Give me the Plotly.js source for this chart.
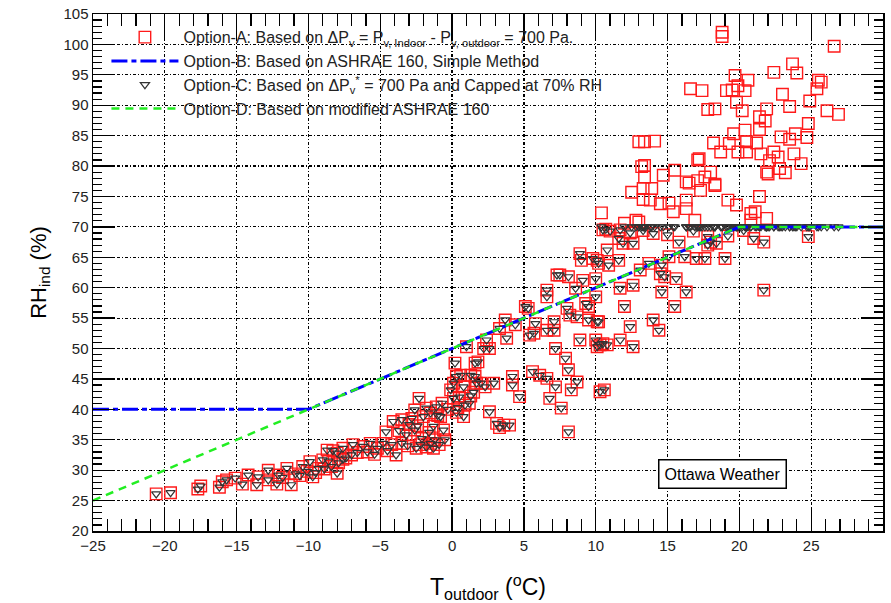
<!DOCTYPE html>
<html>
<head>
<meta charset="utf-8">
<script src="https://cdn.plot.ly/plotly-3.0.1.min.js"></script>
<style>html,body{margin:0;padding:0;background:#fff;}#chart{width:891px;height:603px;}</style>
</head>
<body>
<div id="chart"></div>
<script>
// Option-A: outdoor temperature (°C) and indoor RH (%)
const tempA = [
-20.6,-19.6,-17.7,-17.5,-16.2,-16.0,-15.7,-15.1,-14.6,-14.2,-13.6,-13.5,-12.8,-12.8,-12.2,-12.1,-11.5,-11.2,-10.9,-10.4,
-9.9,-9.7,-9.3,-9.0,-8.7,-8.4,-8.0,-8.0,-11.8,-10.6,-10.1,-9.5,-8.9,-8.6,-7.9,-7.6,
-8.3,-7.6,-7.4,-7.0,-6.9,-6.6,-6.2,-5.9,-5.7,-5.4,-5.2,-4.8,-4.5,-4.2,-3.9,-3.5,-3.1,
-4.1,-3.5,-3.7,-3.2,-2.6,-2.6,-2.2,-2.3,-2.0,-1.5,-1.3,-1.1,-0.8,-0.6,-0.5,-1.5,-1.2,-2.1,
-2.8,-2.4,-1.8,-1.6,-1.0,-0.7,-0.3,-2.5,-1.8,-0.9,-1.3,-4.6,-3.0,
-0.1,0.1,0.3,0.2,0.8,0.8,0.9,1.0,1.3,1.6,1.7,0.6,0.1,1.6,1.8,2.0,2.2,2.4,2.6,2.3,2.9,2.6,
3.1,3.6,4.0,3.3,3.3,3.7,3.8,4.2,4.2,4.4,4.7,5.1,5.3,5.4,5.7,5.8,5.6,6.1,6.6,6.6,6.6,6.6,
7.1,7.2,7.2,6.8,7.1,7.6,7.9,8.1,8.0,8.2,8.3,8.6,8.7,8.7,8.9,9.0,9.1,9.3,9.5,8.9,9.5,9.8,
10.0,10.1,10.2,10.0,10.1,10.5,10.3,10.6,10.0,10.8,10.5,7.3,7.5,8.1,8.1,0.3,0.5,1.2,1.5,0.4,1.3,
10.7,11.7,11.6,11.9,12.6,14.0,15.8,17.8,17.8,18.4,10.1,10.9,11.6,13.7,13.1,14.6,14.5,14.8,15.1,16.2,
17.0,17.6,19.0,15.6,11.7,12.6,14.6,16.3,12.0,15.5,10.2,14.0,14.4,12.4,10.3,10.8,11.7,12.6,
21.0,21.7,24.8,18.0,21.7,11.0,12.4,13.3,15.0,16.8,19.2,20.3,
10.4,12.0,12.8,13.0,12.5,13.3,13.9,13.3,13.8,14.5,15.1,15.4,16.3,16.3,16.9,13.0,13.4,14.1,13.2,13.4,
13.4,14.7,15.5,17.1,16.5,17.3,16.3,18.3,19.2,19.8,16.6,17.4,17.8,
18.8,18.8,26.6,23.7,24.0,22.4,19.7,20.6,19.1,19.5,20.4,25.5,25.7,25.4,23.0,19.8,23.5,24.9,18.3,20.2,
21.9,26.1,26.9,21.4,21.8,24.8,21.4,19.6,20.4,18.2,19.3,20.5,21.2,22.9,23.5,23.9,24.7,18.7,19.9,20.5,
21.5,22.4,22.7,22.1,23.8,24.3,22.8,23.2,21.9,22.0,17.2,18.0,17.6,18.3,17.1,21.4,21.1,20.8,21.9,20.8,19.9
];
const rhA = [
26.1,26.3,26.9,27.4,27.2,28.1,28.4,28.7,27.7,29.2,27.6,28.9,30.0,28.4,27.7,29.2,30.3,27.6,29.4,30.6,
31.4,28.9,30.3,31.7,33.3,30.6,32.8,29.5,28.8,29.1,29.8,29.6,30.2,31.5,31.2,31.8,
33.2,33.6,32.0,32.5,34.2,32.9,33.9,33.0,34.4,32.6,33.6,34.4,33.2,34.2,32.5,34.4,34.0,
38.0,38.3,36.5,35.8,39.9,36.6,34.2,41.8,38.8,39.4,37.2,40.4,38.8,36.6,35.0,34.4,35.0,35.2,
38.5,37.3,40.2,36.2,39.0,41.0,40.0,33.6,33.8,34.2,33.6,36.3,37.5,
43.2,41.8,45.4,47.6,43.7,38.8,40.7,50.3,45.6,47.6,44.3,45.6,44.3,45.4,47.8,44.3,50.0,51.4,50.0,43.7,44.3,39.6,
37.7,37.4,37.4,37.0,53.3,54.7,51.7,45.4,44.0,53.9,42.1,56.9,56.6,52.2,52.5,54.1,46.2,45.6,59.6,58.5,45.1,53.0,
53.0,43.7,50.0,41.8,54.4,40.2,48.4,46.5,56.6,55.5,43.2,59.9,55.2,44.5,51.4,64.5,61.2,57.4,54.7,65.6,56.9,64.8,
61.5,54.4,64.0,51.4,50.3,50.8,42.9,43.2,58.5,66.2,69.5,62.1,62.1,61.8,36.3,39.5,42.0,41.0,42.8,40.3,42.2,
69.6,69.5,68.1,67.3,67.3,68.9,67.5,68.4,67.0,67.3,64.5,63.7,64.5,64.0,62.9,63.7,62.3,61.8,65.1,65.1,
64.8,64.8,64.8,61.5,59.9,60.4,59.3,59.3,56.9,56.9,54.4,54.7,53.0,53.6,50.6,50.6,51.4,50.3,
68.1,67.5,68.4,67.5,59.6,69.3,69.0,69.4,68.7,69.3,68.5,69.4,
72.3,70.6,71.1,70.8,75.7,76.3,76.3,74.5,74.4,73.8,73.9,72.5,74.4,73.0,71.1,84.0,84.0,84.1,79.9,80.1,
78.2,78.5,79.3,81.0,77.2,76.0,77.4,76.8,74.4,73.6,92.7,92.4,89.3,
102.0,101.3,99.7,96.8,95.3,95.4,94.9,94.1,92.4,92.5,92.4,94.1,93.8,92.7,91.8,90.5,89.8,90.7,89.4,89.1,
89.4,89.1,88.5,88.1,87.4,87.0,86.0,85.3,85.9,83.8,83.7,84.0,83.8,84.8,84.4,85.3,84.7,82.3,82.3,82.3,
82.0,82.3,81.5,80.9,82.0,80.4,79.6,78.9,79.0,78.7,81.2,79.0,78.2,77.0,77.6,75.0,72.5,72.2,71.4,71.1,93.2
];
// Option-C: same points, capped at 70 % RH
const capRH = 70;
const rhC = rhA.map(v => Math.min(v, capRH));

// Option-B: ASHRAE 160 simple method
const lineBx = [-25, -10, 20, 30];
const lineBy = [40, 40, 70, 70];
// Option-D: modified ASHRAE 160
const lineDx = [-25, 20, 30];
const lineDy = [25, 70, 70];

const names = [
  'Option-A: Based on ΔP<sub>v</sub> = P<sub>v, Indoor</sub> - P<sub>v, outdoor</sub> = 700 Pa.',
  'Option-B: Based on ASHRAE 160, Simple Method',
  'Option-C: Based on ΔP<sub>v</sub><sup>*</sup> = 700 Pa and Capped at 70% RH',
  'Option-D: Based on modified ASHRAE 160'
];

const traces = [
  {x: tempA, y: rhA, mode: 'markers', type: 'scatter', name: names[0], legendrank: 1,
   marker: {symbol: 'square-open', size: 11.5, color: '#ff1a1a', line: {width: 1.4, color: '#ff1a1a'}}},
  {x: tempA, y: rhC, mode: 'markers', type: 'scatter', name: names[2], legendrank: 3,
   marker: {symbol: 'triangle-down-open', size: 8, color: '#333', line: {width: 1.2, color: '#333'}}},
  {x: lineBx, y: lineBy, mode: 'lines', type: 'scatter', name: names[1], legendrank: 2,
   line: {color: '#0000ff', width: 3, dash: '16px,4px,5px,4px'}},
  {x: lineDx, y: lineDy, mode: 'lines', type: 'scatter', name: names[3], legendrank: 4,
   line: {color: '#22ee22', width: 2.5, dash: '8px,6px'}}
];

const axisCommon = {
  showline: true, linecolor: '#000', linewidth: 1.5, mirror: 'allticks',
  ticks: 'inside', tickcolor: '#000', tickwidth: 1.3,
  showgrid: true, gridcolor: '#000', gridwidth: 1.2, griddash: '3px,2px,1px,2px',
  zeroline: false,
  tickfont: {family: 'Liberation Sans, Arial, sans-serif', size: 15, color: '#222'}
};

const layout = {
  width: 891, height: 603,
  margin: {l: 93, r: 8, t: 14, b: 72},
  paper_bgcolor: '#fff', plot_bgcolor: '#fff',
  font: {family: 'Liberation Sans, Arial, sans-serif', color: '#000'},
  xaxis: Object.assign({}, axisCommon, {
    range: [-25, 30], dtick: 5, tick0: -25, ticklen: 24,
    minor: {ticks: 'inside', dtick: 1, ticklen: 12, tickcolor: '#000', tickwidth: 1.2, showgrid: false},
    title: {text: 'T<sub>outdoor</sub> (<sup>o</sup>C)', font: {size: 23, color: '#000'}, standoff: 28}
  }),
  yaxis: Object.assign({}, axisCommon, {
    range: [20, 105], dtick: 5, tick0: 20, ticklen: 22,
    minor: {ticks: 'inside', dtick: 1, ticklen: 9, tickcolor: '#000', tickwidth: 1.2, showgrid: false},
    title: {text: 'RH<sub>ind</sub> (%)', font: {size: 22, color: '#000'}, standoff: 11}
  }),
  showlegend: true,
  legend: {x: 0.017, y: 0.988, xanchor: 'left', yanchor: 'top', bgcolor: 'rgba(0,0,0,0)',
    font: {size: 16, color: '#222'}, traceorder: 'normal', itemwidth: 67},
  annotations: [{
    x: 18.8, y: 29.4, xref: 'x', yref: 'y', text: 'Ottawa Weather', showarrow: false,
    font: {size: 16, color: '#000'}, bgcolor: '#fff', bordercolor: '#000', borderwidth: 1.5, borderpad: 5
  }]
};

Plotly.newPlot('chart', traces, layout, {staticPlot: true, displayModeBar: false});
</script>
</body>
</html>
